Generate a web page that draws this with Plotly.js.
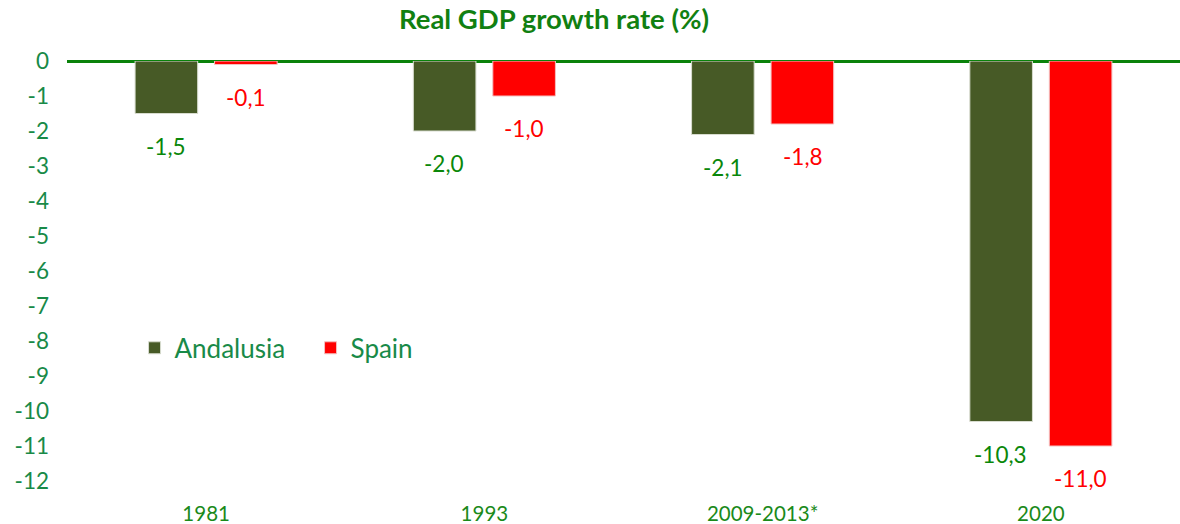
<!DOCTYPE html>
<html>
<head>
<meta charset="utf-8">
<script src="https://cdn.plot.ly/plotly-3.0.1.min.js"></script>
<style>html,body{margin:0;padding:0;background:#fff;}#chart{width:1180px;height:524px;}</style>
</head>
<body>
<div id="chart"></div>
<script>
const categories = ["1981", "1993", "2009-2013*", "2020"];
const andalusia = [-1.5, -2.0, -2.1, -10.3];
const spain = [-0.1, -1.0, -1.8, -11.0];
const yTicks = [0, -1, -2, -3, -4, -5, -6, -7, -8, -9, -10, -11, -12];

const FONT = "Lato, 'Open Sans', sans-serif";
const fmt = v => v.toFixed(1).replace('.', ',');

const traces = [
  {type: 'bar', name: 'Andalusia', x: categories, y: andalusia,
   marker: {color: '#475A26', line: {color: '#D8DCCF', width: 1}}, hoverinfo: 'none'},
  {type: 'bar', name: 'Spain', x: categories, y: spain,
   marker: {color: '#FF0000', line: {color: '#F4C0C0', width: 1}}, hoverinfo: 'none'}
];

const annotations = [];
categories.forEach((c, i) => {
  annotations.push({x: i, y: andalusia[i], xref: 'x', yref: 'y', text: fmt(andalusia[i]),
    showarrow: false, xshift: -40, yanchor: 'top', yshift: -17,
    font: {family: FONT, size: 22.5, color: '#0A870A'}});
  annotations.push({x: i, y: spain[i], xref: 'x', yref: 'y', text: fmt(spain[i]),
    showarrow: false, xshift: 40, yanchor: 'top', yshift: -17,
    font: {family: FONT, size: 22.5, color: '#FF0000'}});
});

const layout = {
  width: 1180, height: 524,
  margin: {l: 67, r: 0, t: 61, b: 25},
  paper_bgcolor: '#fff', plot_bgcolor: '#fff',
  font: {family: FONT},
  title: {text: '<b>Real GDP growth rate (%)</b>', xref: 'container', x: 0.4695, xanchor: 'center',
          yref: 'container', y: 0.963, yanchor: 'middle',
          font: {family: FONT, size: 27.5, color: '#118011'}},
  barmode: 'group', bargap: 0.4286, bargroupgap: 0.2125,
  xaxis: {type: 'category', range: [-0.5, 3.5], showgrid: false, showline: false, zeroline: false,
          ticks: '', tickfont: {family: FONT, size: 20.5, color: '#1A8A1A'}, fixedrange: true},
  yaxis: {range: [-12.514, 0], tickvals: yTicks, ticktext: yTicks.map(String), showgrid: false,
          zeroline: true, zerolinecolor: '#0A820A', zerolinewidth: 3, showline: false,
          ticks: '', ticklabelstandoff: 17,
          tickfont: {family: FONT, size: 22.5, color: '#188A48'}, fixedrange: true},
  showlegend: true,
  legend: {orientation: 'h', x: 0.0607, xanchor: 'left', y: 0.345, yanchor: 'middle',
           font: {family: FONT, size: 26, color: '#188A48'}, bgcolor: 'rgba(0,0,0,0)',
           itemwidth: 30, traceorder: 'normal', entrywidth: 131, entrywidthmode: 'pixels'},
  annotations: annotations
};

Plotly.newPlot('chart', traces, layout, {displayModeBar: false, staticPlot: true});
</script>
</body>
</html>
